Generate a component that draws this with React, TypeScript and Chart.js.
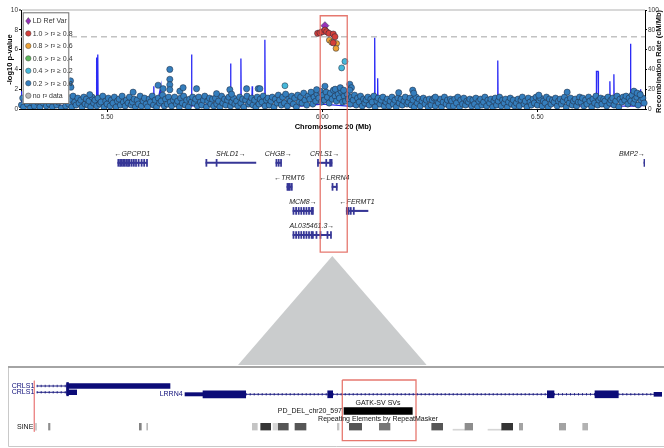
import React, { useEffect, useRef } from 'react';
import { Chart, registerables } from 'chart.js';

Chart.register(...registerables);

const FONT = "'Liberation Sans', Arial, Helvetica, sans-serif";
Chart.defaults.font.family = FONT;

const W = 664;
const TOP_H = 140;
const GENE_H = 116;
const PANEL_H = 192;

// ---------------- association plot ----------------
const xMinMb = 5.3;
const xMaxMb = 6.75;
const xTickMb = [5.5, 6.0, 6.5];
const sigLogP = 7.3;

const ldLabels = ['LD Ref Var', '1.0 > r² ≥ 0.8', '0.8 > r² ≥ 0.6', '0.6 > r² ≥ 0.4', '0.4 > r² ≥ 0.2', '0.2 > r² ≥ 0.0', 'no r² data'];
const ldColors = ['#9632b8', '#d43f3a', '#eea236', '#5cb85c', '#46b8da', '#357ebd', '#b8b8b8'];

const bgPosKb = [
  5301, 5304, 5306, 5309, 5313, 5315, 5318, 5322, 5325, 5327, 5331, 5334, 5338, 5341, 5344, 5347,
  5352, 5355, 5359, 5362, 5366, 5369, 5373, 5376, 5380, 5383, 5387, 5391, 5394, 5398,
  5401, 5404, 5408, 5411, 5415, 5418, 5421, 5425, 5428, 5432, 5435, 5439, 5442, 5446, 5449,
  5452, 5455, 5458, 5462, 5465, 5469, 5472, 5476, 5479, 5483, 5486, 5490, 5493, 5497,
  5500, 5503, 5507, 5510, 5514, 5517, 5521, 5524, 5528, 5531, 5535, 5538, 5542, 5545, 5549,
  5552, 5556, 5559, 5563, 5566, 5570, 5573, 5577, 5580, 5584, 5587, 5591, 5594, 5598,
  5601, 5605, 5608, 5612, 5615, 5619, 5622, 5626, 5629, 5633, 5636, 5640, 5643, 5647,
  5650, 5654, 5657, 5661, 5664, 5668, 5671, 5675, 5678, 5682, 5685, 5689, 5692, 5696, 5699,
  5703, 5706, 5710, 5713, 5717, 5720, 5724, 5727, 5731, 5734, 5738, 5741, 5745, 5748,
  5752, 5755, 5759, 5762, 5766, 5769, 5773, 5776, 5780, 5783, 5787, 5790, 5794, 5797,
  5801, 5804, 5808, 5811, 5815, 5818, 5822, 5825, 5829, 5832, 5836, 5839, 5843, 5846, 5849,
  5853, 5856, 5860, 5863, 5867, 5870, 5874, 5877, 5881, 5884, 5888, 5891, 5895, 5898,
  5901, 5905, 5908, 5912, 5915, 5919, 5922, 5926, 5929, 5933, 5936, 5940, 5943, 5947,
  5950, 5953, 5957, 5960, 5964, 5967, 5971, 5974, 5978, 5981, 5985, 5988, 5992, 5995, 5998,
  6002, 6005, 6009, 6012, 6016, 6019, 6023, 6026, 6030, 6033, 6037, 6040, 6044, 6047,
  6051, 6054, 6058, 6061, 6065, 6068, 6072, 6075, 6079, 6082, 6086, 6089, 6093, 6096, 6099,
  6102, 6106, 6109, 6113, 6116, 6120, 6123, 6127, 6130, 6134, 6137, 6141, 6144, 6148,
  6151, 6155, 6158, 6162, 6165, 6169, 6172, 6176, 6179, 6183, 6186, 6190, 6193, 6197,
  6200, 6204, 6207, 6211, 6214, 6218, 6221, 6225, 6228, 6232, 6235, 6239, 6242, 6246, 6249,
  6253, 6256, 6260, 6263, 6267, 6270, 6274, 6277, 6281, 6284, 6288, 6291, 6295, 6298,
  6301, 6305, 6308, 6312, 6315, 6319, 6322, 6326, 6329, 6333, 6336, 6340, 6343, 6347,
  6350, 6354, 6357, 6361, 6364, 6368, 6371, 6375, 6378, 6382, 6385, 6389, 6392, 6396, 6399,
  6402, 6405, 6409, 6412, 6416, 6419, 6423, 6426, 6430, 6433, 6437, 6440, 6444, 6447,
  6451, 6455, 6458, 6462, 6465, 6469, 6472, 6476, 6479, 6483, 6486, 6490, 6493, 6497,
  6500, 6504, 6507, 6511, 6514, 6518, 6521, 6525, 6528, 6532, 6535, 6539, 6542, 6546, 6549,
  6553, 6556, 6560, 6563, 6567, 6570, 6574, 6577, 6581, 6584, 6588, 6591, 6595, 6598,
  6601, 6605, 6608, 6612, 6615, 6619, 6622, 6626, 6629, 6633, 6636, 6640, 6643, 6647,
  6650, 6654, 6657, 6661, 6664, 6668, 6671, 6675, 6678, 6682, 6685, 6689, 6692, 6696, 6699,
  6703, 6706, 6710, 6713, 6717, 6720, 6724, 6727, 6731, 6734, 6738, 6741, 6745, 6748,
];
const bgLogP = [
  0.4, 1.1, 0.2, 0.8, 1.3, 0.5, 0.9, 0.1, 1.2, 0.6, 0.3, 1.0, 0.7, 1.4, 0.2, 0.9,
  0.6, 1.2, 0.3, 0.9, 0.5, 1.4, 0.2, 0.8, 1.1, 0.4, 0.7, 1.3, 0.1, 1.0,
  0.8, 0.3, 1.2, 0.5, 1.0, 0.2, 1.3, 0.7, 0.4, 1.1, 0.6, 0.9, 0.2, 1.2, 0.5,
  1.0, 0.4, 0.8, 0.2, 1.2, 0.6, 0.9, 0.3, 1.1, 0.5, 0.7, 1.3, 0.2, 0.8,
  0.5, 1.1, 0.3, 0.9, 0.6, 1.2, 0.2, 0.8, 1.0, 0.4, 1.3, 0.7, 0.3, 0.9, 0.6,
  1.2, 0.4, 0.7, 1.0, 0.2, 0.9, 0.5, 1.3, 0.3, 0.8, 1.1, 0.5, 0.2, 1.0,
  0.7, 1.3, 0.4, 0.9, 0.2, 1.1, 0.6, 0.8, 1.4, 0.3, 1.0, 0.5, 1.2, 0.7,
  0.3, 0.9, 1.2, 0.5, 0.8, 0.2, 1.1, 0.6, 1.3, 0.4, 0.9, 0.2, 1.0, 0.7, 1.2,
  0.6, 1.0, 0.3, 1.2, 0.7, 0.4, 0.9, 1.3, 0.2, 0.8, 1.1, 0.5, 1.0, 0.3,
  1.1, 0.5, 0.8, 0.2, 1.3, 0.6, 1.0, 0.4, 0.9, 1.2, 0.3, 0.7, 1.1, 0.5,
  0.8, 0.3, 1.2, 0.6, 1.0, 0.2, 0.9, 1.3, 0.5, 0.7, 1.1, 0.4, 0.9, 0.2, 1.2,
  0.5, 1.0, 0.7, 1.3, 0.3, 0.9, 1.1, 0.4, 0.8, 1.2, 0.2, 1.0, 0.6, 1.4,
  0.9, 0.4, 1.2, 0.6, 1.5, 0.3, 1.0, 0.8, 1.3, 0.5, 1.1, 0.2, 1.4, 0.7,
  1.2, 0.6, 1.6, 0.9, 0.4, 1.3, 1.0, 1.7, 0.5, 1.2, 0.8, 1.5, 1.1, 1.8, 0.7,
  1.4, 0.9, 1.7, 1.2, 0.6, 1.6, 1.0, 1.9, 1.3, 0.8, 1.5, 1.1, 1.8, 0.7,
  1.3, 0.8, 1.5, 1.0, 0.5, 1.2, 0.9, 1.4, 0.4, 1.1, 0.7, 1.3, 0.3, 1.0, 0.6,
  0.9, 1.2, 0.4, 1.0, 0.7, 1.3, 0.2, 0.8, 1.1, 0.5, 0.9, 1.2, 0.3, 0.7,
  1.0, 0.3, 0.8, 1.2, 0.5, 0.9, 0.2, 1.1, 0.6, 1.0, 0.4, 0.8, 1.2, 0.5,
  0.7, 1.1, 0.4, 0.9, 0.2, 1.2, 0.6, 1.0, 0.3, 0.8, 1.1, 0.5, 0.9, 0.2, 1.0,
  0.4, 0.9, 1.1, 0.3, 0.8, 0.6, 1.0, 0.2, 0.7, 1.2, 0.5, 0.9, 0.3, 1.0,
  0.8, 0.3, 1.0, 0.6, 1.2, 0.2, 0.9, 0.5, 1.1, 0.4, 0.8, 0.7, 1.0, 0.3,
  0.9, 0.5, 1.1, 0.2, 0.8, 1.0, 0.4, 0.7, 1.2, 0.3, 0.9, 0.6, 1.0, 0.2, 0.8,
  1.1, 0.4, 0.8, 1.2, 0.3, 0.9, 0.6, 1.0, 0.2, 0.7, 1.1, 0.5, 0.9, 0.3,
  0.6, 1.0, 0.3, 0.9, 1.2, 0.5, 0.8, 0.2, 1.1, 0.7, 0.4, 1.0, 0.6, 1.2,
  0.4, 0.9, 1.1, 0.3, 0.8, 0.6, 1.2, 0.2, 1.0, 0.5, 0.9, 0.7, 1.1, 0.3, 0.8,
  1.0, 0.5, 0.8, 1.2, 0.2, 0.9, 0.6, 1.1, 0.4, 0.8, 1.0, 0.3, 0.7, 1.2,
  0.7, 1.1, 0.3, 0.9, 0.5, 1.2, 0.8, 0.2, 1.0, 0.6, 1.3, 0.4, 0.9, 1.1,
  0.5, 1.0, 0.8, 0.3, 1.2, 0.6, 0.9, 1.1, 0.4, 0.8, 1.3, 0.2, 1.0, 0.7, 1.2,
  0.9, 1.3, 0.5, 1.1, 0.8, 1.4, 0.6, 1.0, 1.2, 0.4, 1.5, 0.9, 1.1, 0.6,
];

// scattered weak-LD variants standing above the band
const bgPeakPosMb = [5.415, 5.416, 5.4598, 5.5605, 5.6186, 5.6302, 5.6458, 5.6458, 5.6458, 5.6458, 5.6691, 5.6767, 5.7079, 5.7544, 5.7853, 5.7893, 5.8242, 5.8512, 5.8551, 5.987, 6.0063, 6.0302, 6.0419, 6.0498, 6.064, 6.0679, 6.064, 6.1777, 6.2102, 6.2126, 6.2628, 6.5033, 6.5691, 6.7242, 6.7319, 6.7388];
const bgPeakLogP = [2.85, 2.2, 1.45, 1.7, 2.4, 2.05, 4.0, 3.0, 2.45, 1.95, 1.8, 2.15, 2.05, 1.55, 1.95, 1.5, 2.05, 2.05, 2.05, 1.95, 2.3, 2.0, 2.15, 1.9, 2.5, 2.15, 1.9, 1.65, 1.9, 1.6, 1.2, 1.4, 1.7, 1.8, 1.6, 1.45];

const lightBluePosMb = [6.0528, 6.0451, 5.9133];
const lightBlueLogP = [4.8, 4.15, 2.35];
const orangePosMb = [6.0163, 6.0219, 6.0335, 6.0319];
const orangeLogP = [6.96, 6.73, 6.62, 6.12];
const redPosMb = [5.9893, 5.9947, 6.0, 6.0063, 6.0102, 6.0156, 6.0256, 6.0295, 6.0256];
const redLogP = [7.64, 7.7, 7.8, 7.97, 7.8, 7.64, 7.57, 7.3, 6.69];
const refPosMb = [6.0063];
const refLogP = [8.42];

const recombPosMb = [5.3, 5.3015, 5.33, 5.38, 5.43, 5.4745, 5.4753, 5.4762, 5.4776, 5.4784, 5.4792, 5.52, 5.57, 5.6078, 5.6086, 5.6094, 5.616, 5.6249, 5.6257, 5.65, 5.6955, 5.6963, 5.6971, 5.74, 5.7862, 5.787, 5.7878, 5.8102, 5.811, 5.8118, 5.8364, 5.8372, 5.838, 5.8659, 5.8667, 5.8675, 5.9, 5.95, 6.0, 6.06, 6.1211, 6.1219, 6.1227, 6.128, 6.1288, 6.1296, 6.2, 6.3, 6.4071, 6.4079, 6.4087, 6.4636, 6.4644, 6.4652, 6.55, 6.6, 6.6364, 6.6372, 6.641, 6.6418, 6.6676, 6.6684, 6.6692, 6.6769, 6.6777, 6.6785, 6.7155, 6.7163, 6.7171, 6.7387, 6.7395, 6.7403, 6.75];
const recombRate = [18, 3, 4, 3, 5, 3, 52, 4, 4, 55, 3, 4, 3, 3, 23, 3, 4, 23, 3, 4, 3, 55, 3, 5, 3, 46, 4, 3, 51, 3, 3, 23, 4, 3, 70, 3, 4, 3, 5, 3, 3, 72, 3, 3, 31, 3, 4, 3, 3, 49, 3, 3, 10, 3, 4, 3, 3, 38, 38, 3, 3, 28, 3, 3, 35, 3, 3, 66, 3, 3, 20, 3, 4];

// highlighted window (Mb)
const zoomStartMb = 5.9953;
const zoomEndMb = 6.0581;

// ---------------- gene track ----------------
const geneNames = ['GPCPD1', 'SHLD1', 'CHGB', 'CRLS1', 'BMP2', 'TRMT6', 'LRRN4', 'MCM8', 'FERMT1', 'AL035461.3'];
const geneStrand = ['-', '+', '+', '+', '+', '-', '-', '+', '-', '+'];
const geneStartMb = [5.5249, 5.7295, 5.8923, 5.9888, 6.7475, 5.9179, 6.0226, 5.9319, 6.0558, 5.9319];
const geneEndMb = [5.5923, 5.8458, 5.904, 6.0226, 6.749, 5.9295, 6.0342, 5.9784, 6.1063, 6.0202];
const geneRow = [1, 1, 1, 1, 1, 2, 2, 3, 3, 4];

const exonGene = [
  0, 0, 0, 0, 0, 0, 0, 0, 0, 0, 0, 0, 0, 0, 0,
  1, 1, 2, 2, 2, 3, 3, 3, 3, 4, 5, 5, 5, 5, 6, 6,
  7, 7, 7, 7, 7, 7, 7, 7, 7, 8, 8, 8, 8,
  9, 9, 9, 9, 9, 9, 9, 9, 9, 9, 9, 9, 9,
];
const exonStartMb = [
  5.5249, 5.529, 5.533, 5.5365, 5.54, 5.544, 5.5475, 5.551, 5.556, 5.561, 5.566, 5.572, 5.579, 5.585, 5.5915,
  5.7295, 5.7532, 5.8923, 5.8975, 5.903, 5.9888, 6.008, 6.017, 6.0205, 6.7475, 5.9179, 5.9205, 5.9235, 5.928, 6.0226, 6.0325,
  5.9319, 5.938, 5.944, 5.95, 5.956, 5.962, 5.968, 5.974, 5.977, 6.0558, 6.06, 6.065, 6.072,
  5.9319, 5.938, 5.944, 5.95, 5.956, 5.962, 5.968, 5.974, 5.977, 5.9853, 5.9947, 6.0109, 6.019,
];
const exonEndMb = [
  5.5262, 5.53, 5.5342, 5.5375, 5.541, 5.545, 5.5485, 5.552, 5.5568, 5.5618, 5.5667, 5.5727, 5.5796, 5.5856, 5.5923,
  5.7305, 5.7542, 5.8935, 5.8983, 5.904, 5.9898, 6.009, 6.018, 6.0226, 6.749, 5.919, 5.9215, 5.9245, 5.9295, 6.024, 6.0342,
  5.9329, 5.939, 5.945, 5.951, 5.957, 5.963, 5.969, 5.975, 5.9784, 6.057, 6.061, 6.0662, 6.0737,
  5.9329, 5.939, 5.945, 5.951, 5.957, 5.963, 5.969, 5.975, 5.9784, 5.9863, 5.9957, 6.0119, 6.0202,
];

// ---------------- zoomed browser panel (kb from left edge of view) ----------------
const panelKbMax = 65.4;
const panelGeneNames = ['CRLS1', 'CRLS1', 'LRRN4'];
const panelGeneY = [130, 136.3, 138.3];
const panelGeneStartKb = [2.87, 2.87, 17.7];

const panelBlockGene = [0, 0, 1, 1, 2, 2, 2, 2, 2, 2];
const panelBlockKind = ['exon', 'marker', 'exon', 'marker', 'utr', 'cds', 'cds', 'cds', 'cds', 'utrEnd'];
const panelBlockStartKb = [5.87, 5.87, 5.87, 5.87, 17.7, 19.5, 31.97, 53.93, 58.7, 64.6];
const panelBlockEndKb = [16.2, 6.05, 6.87, 6.05, 19.5, 23.77, 32.47, 54.6, 61.03, 65.43];

const panelIntronGene = [0, 1, 2, 2, 2, 2];
const panelIntronStartKb = [2.87, 2.87, 23.77, 32.47, 54.6, 61.03];
const panelIntronEndKb = [5.87, 5.87, 31.97, 53.93, 58.7, 64.6];

const svName = 'PD_DEL_chr20_597';
const svStartKb = 33.6;
const svEndKb = 40.43;
const svY = 155;

const trackTitles = ['GATK-SV SVs', 'Repeating Elements by RepeatMasker'];
const trackTitleY = [147, 163];
const trackTitleKb = 37.0;

const repClass = 'SINE';
const repY = 170.7;
const repStartKb = [2.75, 4.05, 13.13, 13.87, 24.43, 25.27, 26.5, 27.03, 28.7, 32.93, 34.13, 37.13, 42.37, 45.7, 49.37, 51.13, 55.13, 57.47];
const repEndKb = [2.85, 4.2, 13.33, 13.97, 24.93, 26.27, 27.0, 28.03, 29.8, 33.1, 35.37, 38.2, 43.47, 46.47, 50.47, 51.47, 55.77, 57.97];
const repScore = [0.2, 0.45, 0.5, 0.25, 0.2, 0.85, 0.12, 0.7, 0.7, 0.2, 0.7, 0.55, 0.7, 0.45, 0.85, 0.35, 0.35, 0.28];
const repFaintStartKb = [44.5, 48.0];
const repFaintEndKb = [45.7, 49.37];

const hlStartKb = 33.43;
const hlEndKb = 40.8;
const hlTopY = 124;
const hlBottomY = 184.7;
const cursorKb = 2.63;
const cursorY = [124.7, 175.7];

const zoomApexKb = 32.43;
const zoomBaseKb = [23.0, 41.87];
const zoomApexY = 0;
const zoomBaseY = 109;
const frameTopY = 111;
const frameBottomY = 190.5;

const GENE_COLOR = '#363696';
const PANEL_GENE = '#0c0c78';
const BOX_RED = 'rgba(226,96,86,0.85)';

// ---------------- plugins ----------------
const ldLegendPlugin = {
  id: 'ldLegend',
  afterDatasetsDraw(chart: any) {
    const { ctx, chartArea } = chart;
    const x0 = chartArea.left + 1.7;
    const y0 = chartArea.top + 2.3;
    ctx.save();
    ctx.fillStyle = '#ffffff';
    ctx.fillRect(x0, y0, 46.6, 91.7);
    ctx.strokeStyle = '#6e6e6e';
    ctx.lineWidth = 1;
    ctx.strokeRect(x0 + 0.5, y0 + 0.5, 45.6, 90.7);
    ctx.font = `7px ${FONT}`;
    ctx.textBaseline = 'middle';
    ctx.textAlign = 'left';
    ldLabels.forEach((lab, i) => {
      const cy = y0 + 8.7 + i * 12.45;
      const cx = x0 + 5.6;
      ctx.beginPath();
      if (i === 0) {
        ctx.moveTo(cx, cy - 3.4);
        ctx.lineTo(cx + 2.6, cy);
        ctx.lineTo(cx, cy + 3.4);
        ctx.lineTo(cx - 2.6, cy);
        ctx.closePath();
      } else {
        ctx.arc(cx, cy, 2.7, 0, Math.PI * 2);
      }
      ctx.fillStyle = ldColors[i];
      ctx.fill();
      ctx.strokeStyle = '#444';
      ctx.lineWidth = 0.5;
      ctx.stroke();
      ctx.fillStyle = '#333';
      ctx.fillText(lab, x0 + 10, cy + 0.5);
    });
    ctx.restore();
  },
};

const rightTitlePlugin = {
  id: 'rightTitle',
  afterDraw(chart: any) {
    const { ctx, chartArea } = chart;
    ctx.save();
    ctx.translate(chart.width - 5.5, (chartArea.top + chartArea.bottom) / 2 + 2);
    ctx.rotate(-Math.PI / 2);
    ctx.font = `bold 7.5px ${FONT}`;
    ctx.fillStyle = '#111';
    ctx.textAlign = 'center';
    ctx.textBaseline = 'middle';
    ctx.fillText('Recombination Rate (cM/Mb)', 0, 0);
    ctx.restore();
  },
};

const zoomBoxPlugin = {
  id: 'zoomBox',
  afterDraw(chart: any, _args: any, opts: any) {
    if (!opts || opts.x0 == null) return;
    const { ctx } = chart;
    const xs = chart.scales.x;
    const ys = chart.scales.y;
    const x0 = xs.getPixelForValue(opts.x0);
    const x1 = xs.getPixelForValue(opts.x1);
    const top = opts.yTop == null ? 0 : ys.getPixelForValue(opts.yTop);
    const bot = opts.yBottom == null ? chart.height : ys.getPixelForValue(opts.yBottom);
    ctx.save();
    ctx.strokeStyle = BOX_RED;
    ctx.lineWidth = 1.3;
    ctx.beginPath();
    if (opts.yTop != null) {
      ctx.moveTo(x0, bot);
      ctx.lineTo(x0, top);
      ctx.lineTo(x1, top);
      ctx.lineTo(x1, bot);
    } else {
      ctx.moveTo(x0, top);
      ctx.lineTo(x0, bot);
      ctx.lineTo(x1, bot);
      ctx.lineTo(x1, top);
    }
    ctx.stroke();
    ctx.restore();
  },
};

const geneLabelPlugin = {
  id: 'geneLabels',
  afterDatasetsDraw(chart: any) {
    const { ctx, chartArea } = chart;
    const xs = chart.scales.x;
    const ys = chart.scales.y;
    ctx.save();
    ctx.font = `italic 7px ${FONT}`;
    ctx.fillStyle = '#222';
    ctx.textBaseline = 'middle';
    ctx.textAlign = 'center';
    geneNames.forEach((name, i) => {
      const text = geneStrand[i] === '+' ? `${name}→` : `←${name}`;
      const w = ctx.measureText(text).width;
      let cx = (xs.getPixelForValue(geneStartMb[i]) + xs.getPixelForValue(geneEndMb[i])) / 2;
      cx = Math.min(cx, chartArea.right - w / 2);
      cx = Math.max(cx, chartArea.left + w / 2);
      ctx.fillText(text, cx, ys.getPixelForValue(geneRow[i]) - 8.5);
    });
    ctx.restore();
  },
};

const panelPlugin = {
  id: 'panelDecor',
  afterDatasetsDraw(chart: any) {
    const { ctx } = chart;
    const xs = chart.scales.x;
    const ys = chart.scales.y;
    const left = xs.getPixelForValue(0);
    const top = ys.getPixelForValue(frameTopY);
    const bottom = ys.getPixelForValue(frameBottomY);
    ctx.save();
    ctx.strokeStyle = '#c9c9c9';
    ctx.lineWidth = 1;
    ctx.beginPath();
    ctx.moveTo(left + 0.5, top);
    ctx.lineTo(left + 0.5, bottom);
    ctx.lineTo(chart.width, bottom);
    ctx.stroke();
    ctx.strokeStyle = '#a4a4a4';
    ctx.lineWidth = 2;
    ctx.beginPath();
    ctx.moveTo(left, top);
    ctx.lineTo(chart.width, top);
    ctx.stroke();

    ctx.font = `7px ${FONT}`;
    ctx.textBaseline = 'middle';
    ctx.textAlign = 'right';
    ctx.fillStyle = PANEL_GENE;
    panelGeneNames.forEach((n, i) => {
      ctx.fillText(n, xs.getPixelForValue(panelGeneStartKb[i]) - 2.4, ys.getPixelForValue(panelGeneY[i]));
    });
    ctx.fillStyle = '#111';
    ctx.fillText(svName, xs.getPixelForValue(svStartKb) - 2, ys.getPixelForValue(svY));
    ctx.fillText(repClass, xs.getPixelForValue(cursorKb) - 1, ys.getPixelForValue(repY));
    ctx.textAlign = 'center';
    trackTitles.forEach((t, i) => {
      ctx.fillText(t, xs.getPixelForValue(trackTitleKb), ys.getPixelForValue(trackTitleY[i]));
    });
    ctx.restore();
  },
};

const pts = (xs: number[], ys: number[]) => xs.map((x, i) => ({ x, y: ys[i] }));

function topConfig(): any {
  const pointStyle = (color: string, r: number, order: number, data: any[]) => ({
    type: 'scatter',
    data,
    backgroundColor: color,
    borderColor: 'rgba(30,40,60,0.85)',
    borderWidth: 0.6,
    pointRadius: r,
    order,
    yAxisID: 'y',
    clip: { left: 5, right: 5, top: 5, bottom: 0 },
  });
  return {
    type: 'scatter',
    data: {
      datasets: [
        {
          type: 'line',
          data: [{ x: xMinMb, y: sigLogP }, { x: xMaxMb, y: sigLogP }],
          borderColor: '#c2c2c2',
          borderWidth: 1.6,
          borderDash: [6, 4],
          pointRadius: 0,
          order: 12,
          yAxisID: 'y',
        },
        {
          type: 'line',
          data: pts(recombPosMb, recombRate),
          borderColor: '#2a2af5',
          borderWidth: 1.3,
          pointRadius: 0,
          tension: 0,
          order: 11,
          yAxisID: 'y2',
        },
        pointStyle(ldColors[5], 3.1, 9, [...pts(bgPosKb.map((k) => k / 1000), bgLogP), ...pts(bgPeakPosMb, bgPeakLogP)]),
        pointStyle(ldColors[6], 3, 8, []),
        pointStyle(ldColors[3], 3, 7, []),
        pointStyle(ldColors[4], 3, 5, pts(lightBluePosMb, lightBlueLogP)),
        pointStyle(ldColors[2], 2.9, 4, pts(orangePosMb, orangeLogP)),
        { ...pointStyle(ldColors[0], 4, 3, pts(refPosMb, refLogP)), pointStyle: 'rectRot' },
        pointStyle(ldColors[1], 3.1, 2, pts(redPosMb, redLogP)),
      ],
    },
    options: {
      animation: false,
      responsive: false,
      events: [],
      layout: { padding: { top: 10, left: 0, right: 0, bottom: 0 } },
      plugins: {
        legend: { display: false },
        tooltip: { enabled: false },
        zoomBox: { x0: zoomStartMb, x1: zoomEndMb, yTop: 9.42, yBottom: null },
      },
      scales: {
        x: {
          type: 'linear',
          min: xMinMb,
          max: xMaxMb,
          offset: false,
          position: 'bottom',
          afterBuildTicks: (s: any) => {
            s.ticks = xTickMb.map((v) => ({ value: v }));
          },
          afterFit: (s: any) => {
            s.height = 31;
          },
          ticks: {
            font: { size: 6.5 },
            color: '#333',
            padding: 1,
            maxRotation: 0,
            autoSkip: false,
            callback: (v: any) => Number(v).toFixed(2),
          },
          grid: { display: true, drawOnChartArea: false, drawTicks: true, tickLength: 3, tickColor: '#000', color: '#000' },
          border: { display: true, color: '#000', width: 1 },
          title: {
            display: true,
            text: 'Chromosome 20 (Mb)',
            font: { size: 7.5, weight: 'bold' },
            color: '#000',
            padding: { top: 0, bottom: 9 },
          },
        },
        y: {
          type: 'linear',
          position: 'left',
          min: 0,
          max: 10,
          offset: false,
          afterFit: (s: any) => {
            s.width = 21;
          },
          ticks: { stepSize: 2, font: { size: 6.5 }, color: '#333', padding: 1 },
          grid: {
            display: true,
            drawOnChartArea: true,
            drawTicks: true,
            tickLength: 2,
            tickColor: '#000',
            tickWidth: 1,
            color: (c: any) => (c.tick && c.tick.value === 10 ? '#d8d8d8' : 'rgba(0,0,0,0)'),
            lineWidth: (c: any) => (c.tick && c.tick.value === 10 ? 2 : 1),
          },
          border: { display: true, color: '#000', width: 1 },
          title: {
            display: true,
            text: '-log10 p-value',
            font: { size: 7.5, weight: 'bold' },
            color: '#000',
            padding: { top: 5.5, bottom: 0 },
          },
        },
        y2: {
          type: 'linear',
          position: 'right',
          min: 0,
          max: 100,
          afterFit: (s: any) => {
            s.width = 19;
          },
          ticks: { stepSize: 20, font: { size: 6.5 }, color: '#333', padding: 1 },
          grid: { display: true, drawOnChartArea: false, drawTicks: true, tickLength: 2, tickColor: '#000' },
          border: { display: true, color: '#000', width: 1 },
        },
      },
    },
    plugins: [ldLegendPlugin, rightTitlePlugin, zoomBoxPlugin],
  };
}

function geneConfig(): any {
  return {
    type: 'bar',
    data: {
      datasets: [
        {
          indexAxis: 'y',
          data: geneNames.map((_, i) => ({ x: [geneStartMb[i], geneEndMb[i]], y: geneRow[i] })),
          backgroundColor: GENE_COLOR,
          barThickness: 1.4,
          grouped: false,
          minBarLength: 1,
        },
        {
          indexAxis: 'y',
          data: exonStartMb.map((s, i) => ({ x: [s, exonEndMb[i]], y: geneRow[exonGene[i]] })),
          backgroundColor: GENE_COLOR,
          barThickness: 7,
          grouped: false,
          minBarLength: 1.1,
        },
      ],
    },
    options: {
      animation: false,
      responsive: false,
      events: [],
      layout: { padding: { left: 21, right: 19, top: 0, bottom: 0 } },
      plugins: {
        legend: { display: false },
        tooltip: { enabled: false },
        zoomBox: { x0: zoomStartMb, x1: zoomEndMb, yTop: null, yBottom: 4.71 },
      },
      scales: {
        x: { type: 'linear', min: xMinMb, max: xMaxMb, offset: false, display: false },
        y: { type: 'linear', min: 0.05, max: 4.875, reverse: true, offset: false, display: false },
      },
    },
    plugins: [geneLabelPlugin, zoomBoxPlugin],
  };
}

function panelConfig(): any {
  const thick: Record<string, number> = { exon: 4.8, marker: 7, utr: 3.3, cds: 7, utrEnd: 4 };
  const kinds = ['exon', 'marker', 'utr', 'cds', 'utrEnd'];
  const blockSets = kinds.map((k) => ({
    type: 'bar',
    indexAxis: 'y',
    data: panelBlockStartKb
      .map((s, i) => ({ k: panelBlockKind[i], x: [s, panelBlockEndKb[i]], y: panelGeneY[panelBlockGene[i]] }))
      .filter((d) => d.k === k)
      .map((d) => ({ x: d.x, y: d.y })),
    backgroundColor: PANEL_GENE,
    barThickness: thick[k],
    grouped: false,
    order: 3,
  }));
  const intronSets: any[] = [];
  panelIntronStartKb.forEach((s, i) => {
    const y = panelGeneY[panelIntronGene[i]];
    const d = [{ x: s, y }, { x: panelIntronEndKb[i], y }];
    intronSets.push({ type: 'line', data: d, borderColor: PANEL_GENE, borderWidth: 0.9, pointRadius: 0, order: 4 });
    intronSets.push({ type: 'line', data: d, borderColor: 'rgba(12,12,120,0.75)', borderWidth: 2.6, borderDash: [1, 3], pointRadius: 0, order: 4 });
  });
  const gray = (v: number) => {
    const g = Math.round(240 - v * 220);
    return `rgb(${g},${g},${g})`;
  };
  return {
    type: 'bar',
    data: {
      datasets: [
        {
          type: 'line',
          data: [
            { x: zoomBaseKb[0], y: zoomBaseY },
            { x: zoomApexKb, y: zoomApexY },
            { x: zoomBaseKb[1], y: zoomBaseY },
          ],
          borderWidth: 0,
          borderColor: 'rgba(0,0,0,0)',
          backgroundColor: '#cacccd',
          fill: { value: zoomBaseY },
          pointRadius: 0,
          order: 10,
        },
        ...blockSets,
        ...intronSets,
        {
          type: 'bar',
          indexAxis: 'y',
          data: [{ x: [svStartKb, svEndKb], y: svY }],
          backgroundColor: '#000',
          barThickness: 7,
          grouped: false,
          order: 3,
        },
        {
          type: 'bar',
          indexAxis: 'y',
          data: repStartKb.map((s, i) => ({ x: [s, repEndKb[i]], y: repY })),
          backgroundColor: repScore.map(gray),
          barThickness: 6.7,
          grouped: false,
          order: 3,
        },
        {
          type: 'bar',
          indexAxis: 'y',
          data: repFaintStartKb.map((s, i) => ({ x: [s, repFaintEndKb[i]], y: repY + 3 })),
          backgroundColor: '#d6d6d6',
          barThickness: 1,
          grouped: false,
          order: 3,
        },
        {
          type: 'line',
          data: [{ x: cursorKb, y: cursorY[0] }, { x: cursorKb, y: cursorY[1] }],
          borderColor: 'rgba(235,130,130,0.75)',
          borderWidth: 1,
          pointRadius: 0,
          order: 2,
        },
        {
          type: 'line',
          data: [
            { x: hlStartKb, y: hlTopY },
            { x: hlEndKb, y: hlTopY },
            { x: hlEndKb, y: hlBottomY },
            { x: hlStartKb, y: hlBottomY },
            { x: hlStartKb, y: hlTopY },
          ],
          borderColor: BOX_RED,
          borderWidth: 1.3,
          pointRadius: 0,
          fill: false,
          order: 1,
        },
      ],
    },
    options: {
      animation: false,
      responsive: false,
      events: [],
      layout: { padding: { left: 8, right: 2, top: 0, bottom: 0 } },
      plugins: { legend: { display: false }, tooltip: { enabled: false } },
      scales: {
        x: { type: 'linear', min: 0, max: panelKbMax, offset: false, display: false },
        y: { type: 'linear', min: 0, max: PANEL_H, reverse: true, offset: false, display: false },
      },
    },
    plugins: [panelPlugin],
  };
}

export default function App() {
  const topRef = useRef<HTMLCanvasElement>(null);
  const geneRef = useRef<HTMLCanvasElement>(null);
  const panelRef = useRef<HTMLCanvasElement>(null);

  useEffect(() => {
    document.body.style.margin = '0';
    const charts: any[] = [];
    if (topRef.current) charts.push(new Chart(topRef.current, topConfig()));
    if (geneRef.current) charts.push(new Chart(geneRef.current, geneConfig()));
    if (panelRef.current) charts.push(new Chart(panelRef.current, panelConfig()));
    return () => charts.forEach((c) => c.destroy());
  }, []);

  return (
    <div style={{ position: 'relative', width: W, height: 448, background: '#fff', overflow: 'hidden' }}>
      <canvas ref={topRef} width={W} height={TOP_H} style={{ position: 'absolute', left: 0, top: 0 }} />
      <canvas ref={geneRef} width={W} height={GENE_H} style={{ position: 'absolute', left: 0, top: TOP_H }} />
      <canvas ref={panelRef} width={W} height={PANEL_H} style={{ position: 'absolute', left: 0, top: TOP_H + GENE_H }} />
    </div>
  );
}
